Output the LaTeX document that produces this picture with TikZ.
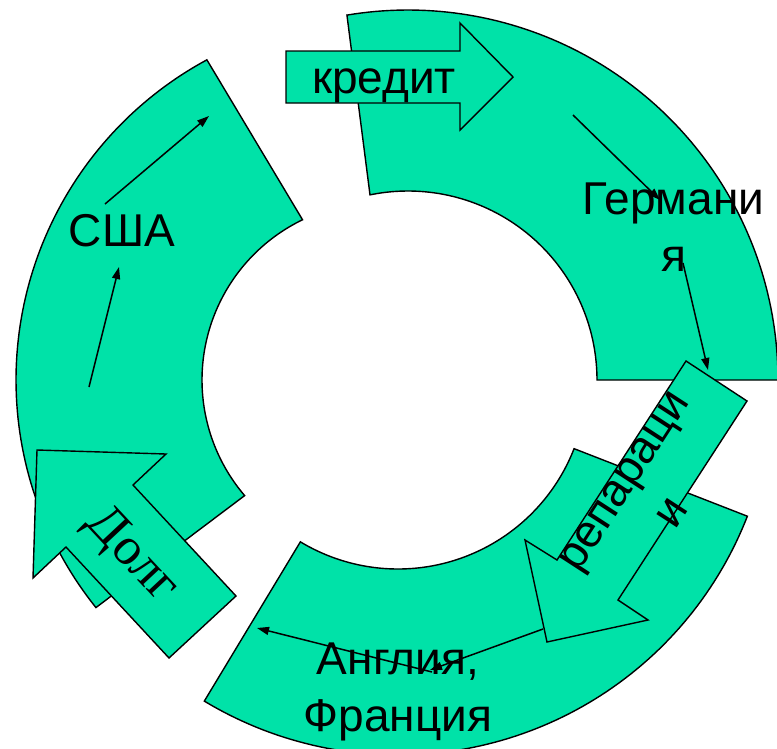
\documentclass[tikz,border=0pt]{standalone}
\usepackage{fontspec}
\setmainfont{Liberation Sans}
\newfontfamily\serifru{Liberation Serif}
\usetikzlibrary{arrows.meta,calc}
\definecolor{segfill}{RGB}{0,226,168}
\begin{document}
\begin{tikzpicture}[x=1pt,y=-1pt,
  seg/.style={fill=segfill,draw=black,line width=1.4pt,line join=miter},
  blockarrow/.style={fill=segfill,draw=black,line width=1.4pt,line join=miter},
  flow/.style={draw=black,line width=1.5pt,-{Triangle[length=12pt,width=8pt]}},
  lbl/.style={font=\fontsize{46}{57.5}\selectfont,inner sep=0pt,align=center,text=black},
  lblserif/.style={font=\serifru\fontsize{53}{60}\selectfont,inner sep=0pt,align=center,text=black}
]
\useasboundingbox (0,0) rectangle (777,748);
\clip (0,0) rectangle (777,748);

% ring segments
\draw[seg] plot[domain=141.3:241.6,samples=90] ({380+364*cos(\x)},{380+364*sin(\x)})
  -- plot[domain=244.2:139.5,samples=90] ({380+178*cos(\x)},{380+178*sin(\x)}) -- cycle;
\draw[seg] plot[domain=260.5:360,samples=90] ({408+370*cos(\x)},{380+370*sin(\x)})
  -- plot[domain=360:258.4,samples=90] ({408+189*cos(\x)},{380+189*sin(\x)}) -- cycle;
\draw[seg] plot[domain=21.3:121.1,samples=90] ({398+375*cos(\x)},{380+375*sin(\x)})
  -- plot[domain=121.1:21.3,samples=90] ({398+189*cos(\x)},{380+189*sin(\x)}) -- cycle;

% block arrows
\draw[blockarrow] (286,51) -- (460,51) -- (460,23) -- (513,77) -- (460,130) -- (460,103) -- (286,103) -- cycle;
\draw[blockarrow] (686,361) -- (747,401) -- (618,600) -- (648,620) -- (547,642) -- (525,540) -- (557,560) -- cycle;
\draw[blockarrow] (37,450) -- (166,454) -- (133,485) -- (236,596) -- (169,658) -- (66,547) -- (33,578) -- cycle;

% labels
\node[lbl,anchor=base] (usa) at (122,246.7) {США};
\node[lbl,anchor=base] (kredit) at (384,93) {кредит};
\node[lbl] (germ) at (673.5,227) {Германи\\я};
\node[lbl] (ang) at (398,692) {Англия,\\Франция};
\node[lbl,rotate=57] (rep) at (648,497) {репараци\\и};
\node[lblserif,rotate=-47] (dolg) at (131,556) {Долг};

% flow connectors
\coordinate (a1) at (89,387);   \coordinate (a2) at (119,267);
\coordinate (b1) at (105,204);  \coordinate (b2) at (209,116);
\coordinate (c1) at (573,115);  \coordinate (c2) at (660,200);
\coordinate (d1) at (683,263);  \coordinate (d2) at (708,370);
\coordinate (e1) at (543,629);  \coordinate (e2) at (430,670);
\coordinate (f1) at (432,672);  \coordinate (f2) at (257,628);
\draw[flow] (a1) -- (a2);
\draw[flow] (b1) -- (b2);
\draw[flow] (c1) -- (c2);
\draw[flow] (d1) -- (d2);
\draw[flow] (e1) -- (e2);
\draw[flow] (f1) -- (f2);
\end{tikzpicture}
\end{document}
